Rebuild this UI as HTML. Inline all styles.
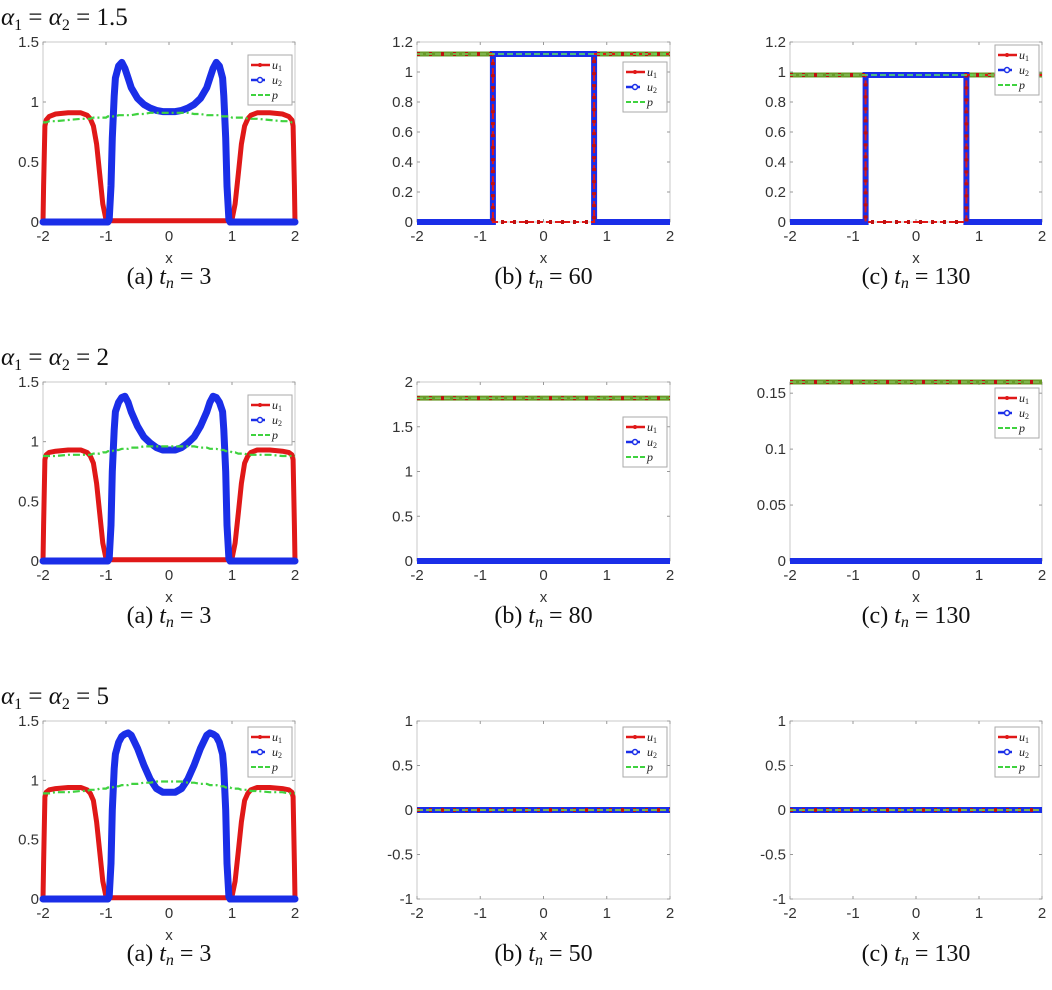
<!DOCTYPE html>
<html><head><meta charset="utf-8">
<style>
html,body{margin:0;padding:0;background:#fff;}
svg{display:block;}
</style></head>
<body>
<svg id="fig" width="1052" height="990" viewBox="0 0 1052 990" xmlns="http://www.w3.org/2000/svg"></svg>
<script>
// ---------- data ----------
const xs1a = [-2,-1.99,-1.97,-1.95,-1.9,-1.8,-1.6,-1.4,-1.3,-1.25,-1.2,-1.15,-1.1,-1.05,-1.0,-0.97,-0.95,-0.92,-0.9,-0.87,-0.85,-0.8,-0.75,-0.7,-0.65,-0.6,-0.5,-0.4,-0.3,-0.2,-0.1,0,0.1,0.2,0.3,0.4,0.5,0.6,0.65,0.7,0.75,0.8,0.85,0.87,0.9,0.92,0.95,0.97,1.0,1.05,1.1,1.15,1.2,1.25,1.3,1.4,1.6,1.8,1.9,1.95,1.97,1.99,2];
const u1_1a = [0,0.3,0.8,0.85,0.88,0.9,0.91,0.91,0.89,0.86,0.8,0.65,0.4,0.15,0.02,0.01,0.01,0.01,0.01,0.01,0.01,0.01,0.01,0.01,0.01,0.01,0.01,0.01,0.01,0.01,0.01,0.01,0.01,0.01,0.01,0.01,0.01,0.01,0.01,0.01,0.01,0.01,0.01,0.01,0.01,0.01,0.01,0.01,0.02,0.15,0.4,0.65,0.8,0.86,0.89,0.91,0.91,0.9,0.88,0.85,0.8,0.3,0];
const u2_1a = [0,0,0,0,0,0,0,0,0,0,0,0,0,0,0,0,0.02,0.3,0.7,1.05,1.2,1.3,1.33,1.28,1.2,1.12,1.03,0.98,0.95,0.93,0.92,0.92,0.92,0.93,0.95,0.98,1.03,1.12,1.2,1.28,1.33,1.3,1.2,1.05,0.7,0.3,0.02,0,0,0,0,0,0,0,0,0,0,0,0,0,0,0,0];
const p_1a  = [0.83,0.83,0.83,0.83,0.84,0.84,0.85,0.86,0.86,0.86,0.87,0.87,0.87,0.87,0.87,0.88,0.88,0.88,0.88,0.88,0.88,0.89,0.89,0.89,0.89,0.89,0.9,0.9,0.91,0.91,0.91,0.91,0.91,0.91,0.91,0.9,0.9,0.89,0.89,0.89,0.89,0.89,0.88,0.88,0.88,0.88,0.88,0.88,0.87,0.87,0.87,0.87,0.87,0.86,0.86,0.86,0.85,0.84,0.84,0.83,0.83,0.83,0.83];
const u1_2a = [0,0.3,0.85,0.89,0.91,0.92,0.93,0.93,0.91,0.88,0.82,0.65,0.4,0.15,0.02,0.01,0.01,0.01,0.01,0.01,0.01,0.01,0.01,0.01,0.01,0.01,0.01,0.01,0.01,0.01,0.01,0.01,0.01,0.01,0.01,0.01,0.01,0.01,0.01,0.01,0.01,0.01,0.01,0.01,0.01,0.01,0.01,0.01,0.02,0.15,0.4,0.65,0.82,0.88,0.91,0.93,0.93,0.92,0.91,0.89,0.85,0.3,0];
const u2_2a = [0,0,0,0,0,0,0,0,0,0,0,0,0,0,0,0,0.02,0.3,0.75,1.1,1.25,1.33,1.37,1.38,1.33,1.25,1.13,1.04,0.99,0.95,0.93,0.93,0.93,0.95,0.99,1.04,1.13,1.25,1.33,1.38,1.37,1.33,1.25,1.1,0.75,0.3,0.02,0,0,0,0,0,0,0,0,0,0,0,0,0,0,0,0];
const p_2a  = [0.88,0.88,0.88,0.88,0.88,0.88,0.89,0.89,0.89,0.89,0.9,0.9,0.9,0.91,0.91,0.92,0.92,0.92,0.92,0.93,0.93,0.93,0.94,0.94,0.94,0.95,0.95,0.96,0.96,0.96,0.96,0.96,0.96,0.96,0.96,0.96,0.95,0.95,0.94,0.94,0.94,0.93,0.93,0.93,0.92,0.92,0.92,0.92,0.91,0.91,0.9,0.9,0.9,0.89,0.89,0.89,0.89,0.88,0.88,0.88,0.88,0.88,0.88];
const u1_3a = [0,0.3,0.86,0.9,0.92,0.93,0.94,0.94,0.92,0.89,0.83,0.65,0.4,0.15,0.02,0.01,0.01,0.01,0.01,0.01,0.01,0.01,0.01,0.01,0.01,0.01,0.01,0.01,0.01,0.01,0.01,0.01,0.01,0.01,0.01,0.01,0.01,0.01,0.01,0.01,0.01,0.01,0.01,0.01,0.01,0.01,0.01,0.01,0.02,0.15,0.4,0.65,0.83,0.89,0.92,0.94,0.94,0.93,0.92,0.9,0.86,0.3,0];
const u2_3a = [0,0,0,0,0,0,0,0,0,0,0,0,0,0,0,0,0.02,0.3,0.75,1.1,1.22,1.32,1.37,1.39,1.4,1.38,1.27,1.13,1.01,0.93,0.9,0.9,0.9,0.93,1.01,1.13,1.27,1.38,1.4,1.39,1.37,1.32,1.22,1.1,0.75,0.3,0.02,0,0,0,0,0,0,0,0,0,0,0,0,0,0,0,0];
const p_3a  = [0.89,0.89,0.89,0.89,0.89,0.9,0.9,0.91,0.91,0.92,0.92,0.92,0.93,0.93,0.93,0.94,0.94,0.94,0.94,0.95,0.95,0.95,0.96,0.96,0.96,0.97,0.97,0.98,0.98,0.99,0.99,0.99,0.99,0.99,0.98,0.98,0.97,0.97,0.96,0.96,0.96,0.95,0.95,0.95,0.94,0.94,0.94,0.94,0.93,0.93,0.93,0.92,0.92,0.92,0.91,0.91,0.9,0.9,0.89,0.89,0.89,0.89,0.89];
const xsStep = [-2,-0.8,-0.8,0.8,0.8,2];
const u1_1b = [1.12,1.12,0,0,1.12,1.12];
const u2_1b = [0,0,1.12,1.12,0,0];
const p_1b  = [1.12,1.12,1.12,1.12,1.12,1.12];
const u1_1c = [0.98,0.98,0,0,0.98,0.98];
const u2_1c = [0,0,0.98,0.98,0,0];
const p_1c  = [0.98,0.98,0.98,0.98,0.98,0.98];
const u1_2b = [1.82,1.82,1.82,1.82,1.82,1.82];
const u2_2b = [0,0,0,0,0,0];
const p_2b  = [1.82,1.82,1.82,1.82,1.82,1.82];
const u1_2c = [0.16,0.16,0.16,0.16,0.16,0.16];
const u2_2c = [0,0,0,0,0,0];
const p_2c  = [0.16,0.16,0.16,0.16,0.16,0.16];
const u1_3b = [0,0,0,0,0,0];
const u2_3b = [0,0,0,0,0,0];
const p_3b  = [0,0,0,0,0,0];
const xTicks = [-2,-1,0,1,2];
const yTicksA = [0,0.5,1,1.5];
const yTicks12 = [0,0.2,0.4,0.6,0.8,1,1.2];
const yTicks2 = [0,0.5,1,1.5,2];
const yTicks016 = [0,0.05,0.1,0.15];
const yTicksPM1 = [-1,-0.5,0,0.5,1];
const captionLetters = ['(a)','(b)','(c)'];
const tnValues = [[3,60,130],[3,80,130],[3,50,130]];
const alphaValues = ['1.5','2','5'];

// ---------- layout ----------
const NS='http://www.w3.org/2000/svg';
const svg=document.getElementById('fig');
const cols=[[43,295],[417,670],[790,1042]];
const rows=[[42,222],[382,561],[721,899]];
function mk(tag,attrs,parent){const e=document.createElementNS(NS,tag);for(const k in attrs)e.setAttribute(k,attrs[k]);(parent||svg).appendChild(e);return e;}
function pathD(xs,ys,sx,sy){return xs.map((x,i)=>(i?'L':'M')+sx(x).toFixed(1)+','+sy(ys[i]).toFixed(1)).join('');}
function fmt(v){let s=String(v);if(s.startsWith('0.'))s='0'+s.slice(1);if(s.startsWith('-0.'))s='-0'+s.slice(2);return s;}

const panels=[
 {r:0,c:0,xs:xs1a,u1:u1_1a,u2:u2_1a,p:p_1a,ymin:0,ymax:1.5,yt:yTicksA,step:false,leg:13},
 {r:0,c:1,xs:xsStep,u1:u1_1b,u2:u2_1b,p:p_1b,ymin:0,ymax:1.2,yt:yTicks12,step:true,leg:20},
 {r:0,c:2,xs:xsStep,u1:u1_1c,u2:u2_1c,p:p_1c,ymin:0,ymax:1.2,yt:yTicks12,step:true,leg:3},
 {r:1,c:0,xs:xs1a,u1:u1_2a,u2:u2_2a,p:p_2a,ymin:0,ymax:1.5,yt:yTicksA,step:false,leg:13},
 {r:1,c:1,xs:xsStep,u1:u1_2b,u2:u2_2b,p:p_2b,ymin:0,ymax:2,yt:yTicks2,step:true,leg:35},
 {r:1,c:2,xs:xsStep,u1:u1_2c,u2:u2_2c,p:p_2c,ymin:0,ymax:0.16,yt:yTicks016,step:true,leg:6},
 {r:2,c:0,xs:xs1a,u1:u1_3a,u2:u2_3a,p:p_3a,ymin:0,ymax:1.5,yt:yTicksA,step:false,leg:6},
 {r:2,c:1,xs:xsStep,u1:u1_3b,u2:u2_3b,p:p_3b,ymin:-1,ymax:1,yt:yTicksPM1,step:true,leg:6},
 {r:2,c:2,xs:xsStep,u1:u1_3b,u2:u2_3b,p:p_3b,ymin:-1,ymax:1,yt:yTicksPM1,step:true,leg:6},
];

for(let r=0;r<3;r++){
  const t=mk('text',{x:1,y:rows[r][0]-17,'font-family':'Liberation Serif, serif','font-size':25,fill:'#111'});
  
  
  t.innerHTML='<tspan font-style="italic">α</tspan><tspan font-size="16" dy="5">1</tspan><tspan dy="-5"> = </tspan><tspan font-style="italic">α</tspan><tspan font-size="16" dy="5">2</tspan><tspan dy="-5"> = '+alphaValues[r]+'</tspan>';
}

panels.forEach((P,idx)=>{
  const [L,R]=cols[P.c],[T,B]=rows[P.r];
  const sx=x=>L+(x+2)/4*(R-L);
  const sy=y=>B-(y-P.ymin)/(P.ymax-P.ymin)*(B-T);
  const g=mk('g',{});
  
  
  mk('rect',{x:L,y:T,width:R-L,height:B-T,fill:'#fff',stroke:'#c8c8c8','stroke-width':1},g);
  xTicks.forEach(v=>{
    mk('line',{x1:sx(v),x2:sx(v),y1:B,y2:B-3,stroke:'#999'},g);
    mk('line',{x1:sx(v),x2:sx(v),y1:T,y2:T+3,stroke:'#999'},g);
    const t=mk('text',{x:sx(v),y:B+19,'text-anchor':'middle','font-family':'Liberation Sans, sans-serif','font-size':15,fill:'#333'},g);
    
    
    t.textContent=v;
  });
  P.yt.forEach(v=>{
    mk('line',{x1:L,x2:L+3,y1:sy(v),y2:sy(v),stroke:'#999'},g);
    mk('line',{x1:R,x2:R-3,y1:sy(v),y2:sy(v),stroke:'#999'},g);
    const t=mk('text',{x:L-4,y:sy(v)+5,'text-anchor':'end','font-family':'Liberation Sans, sans-serif','font-size':15,fill:'#333'},g);
    
    
    t.textContent=fmt(v);
  });
  const xl=mk('text',{x:(L+R)/2,y:B+41,'text-anchor':'middle','font-family':'Liberation Sans, sans-serif','font-size':15,fill:'#333'},g);
  
  
  xl.textContent='x';
  const clip='clip'+idx;
  const cp=mk('clipPath',{id:clip},g);mk('rect',{x:L-5,y:T-5,width:R-L+10,height:B-T+10},cp);
  const sg=mk('g',{'clip-path':'url(#'+clip+')'},g);
  if(!P.step){
    const a=mk('path',{d:pathD(P.xs,P.u1,sx,sy),fill:'none',stroke:'#e01818','stroke-width':5,'stroke-linejoin':'round'},sg);
    
    const b=mk('path',{d:pathD(P.xs,P.u2,sx,sy),fill:'none',stroke:'#1a2ee8','stroke-width':7,'stroke-linejoin':'round','stroke-linecap':'round'},sg);
    
    const c=mk('path',{d:pathD(P.xs,P.p,sx,sy),fill:'none',stroke:'#3fd23f','stroke-width':2.2,'stroke-dasharray':'7 3 2 3'},sg);
    
  } else {
    const c=mk('path',{d:pathD(P.xs,P.p,sx,sy),fill:'none',stroke:'#6a9a2a','stroke-width':5},sg);
    
    const b=mk('path',{d:pathD(P.xs,P.u2,sx,sy),fill:'none',stroke:'#1a2ee8','stroke-width':6},sg);
    
    const a=mk('path',{d:pathD(P.xs,P.u1,sx,sy),fill:'none',stroke:'#e01818','stroke-width':2,'stroke-dasharray':'6 3'},sg);
    
    const d=mk('path',{d:pathD(P.xs,P.u1,sx,sy),fill:'none',stroke:'#c01010','stroke-width':4,'stroke-dasharray':'3 9'},sg);
    
    const e=mk('path',{d:pathD(P.xs,P.p,sx,sy),fill:'none',stroke:'#5ee85e','stroke-width':1.5,'stroke-dasharray':'6 3'},sg);
    
  }
  const lw=44,lh=50,lx=R-lw-3,ly=T+P.leg;
  const lg=mk('g',{},g);
  
  
  mk('rect',{x:lx,y:ly,width:lw,height:lh,fill:'#fff',stroke:'#aaa'},lg);
  const ents=[['u','1','#e01818','none'],['u','2','#1a2ee8','none'],['p','','#3fd23f','5 2']];
  ents.forEach((en,i)=>{
    const yy=ly+10+i*15;
    const eg=mk('g',{},lg);
    
    
    mk('line',{x1:lx+3,x2:lx+22,y1:yy,y2:yy,stroke:en[2],'stroke-width':i==2?2:2.5,'stroke-dasharray':i==1?'8 3 3':en[3]},eg);
    if(i==0)mk('circle',{cx:lx+12,cy:yy,r:2,fill:en[2]},eg);
    if(i==1)mk('circle',{cx:lx+12,cy:yy,r:2.5,fill:'#fff',stroke:en[2],'stroke-width':1.5},eg);
    const t=mk('text',{x:lx+24,y:yy+4,'font-family':'Liberation Serif, serif','font-style':'italic','font-size':12,fill:'#222'},eg);
    t.innerHTML=en[0]+(en[1]?'<tspan font-size="8" font-style="normal" dy="2">'+en[1]+'</tspan>':'');
  });
  const cap=mk('text',{x:(L+R)/2,y:B+62,'text-anchor':'middle','font-family':'Liberation Serif, serif','font-size':24,fill:'#111'},g);
  
  
  cap.innerHTML=captionLetters[P.c]+' <tspan font-style="italic">t</tspan><tspan font-style="italic" font-size="16" dy="4">n</tspan><tspan dy="-4"> = '+tnValues[P.r][P.c]+'</tspan>';
});
</script>
</body></html>
